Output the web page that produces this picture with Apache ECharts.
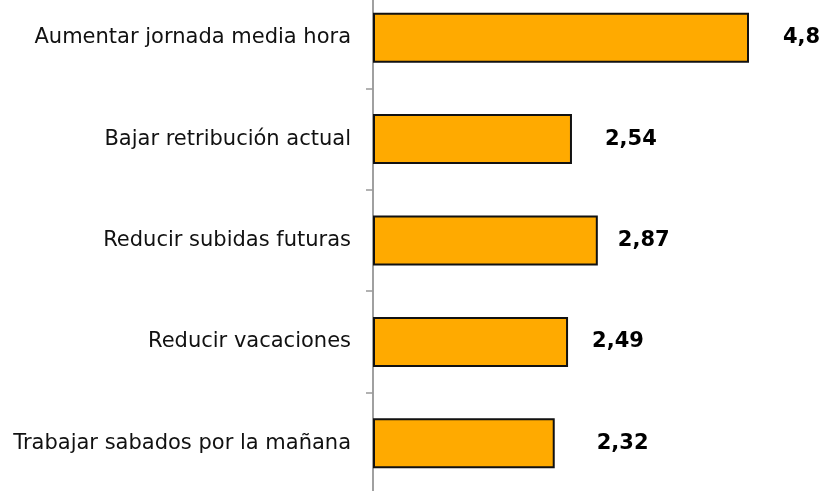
<!DOCTYPE html>
<html>
<head>
<meta charset="utf-8">
<script src="https://cdn.jsdelivr.net/npm/echarts@6/dist/echarts.min.js"></script>
<style>
  html, body { margin: 0; padding: 0; background: #fff; overflow: hidden; }
  #chart { width: 823px; height: 517px; margin-top: -13px; }
</style>
</head>
<body>
<div id="chart"></div>
<script>
// categorias (de arriba a abajo)
var categories = [
  'Aumentar jornada media hora',
  'Bajar retribución actual',
  'Reducir subidas futuras',
  'Reducir vacaciones',
  'Trabajar sabados por la mañana'
];
var values = [4.8, 2.54, 2.87, 2.49, 2.32];
// separacion de cada etiqueta respecto al final de la barra
var labelGap = [34, 33, 20, 24, 42];

var myChart = echarts.init(document.getElementById('chart'));

var _data = values.map(function (v, i) {
  return {
    value: v,
    label: { distance: labelGap[i] }
  };
});

var option = {
  animation: false,
  grid: {
    left: 373,
    top: 0,
    width: 376,
    height: 507
  },
  xAxis: {
    type: 'value',
    min: 0,
    max: 4.8,
    show: false
  },
  yAxis: {
    type: 'category',
    inverse: true,
    data: categories,
    axisLine: {
      show: true,
      lineStyle: { color: '#a0a0a0', width: 2 }
    },
    axisTick: {
      show: true,
      length: 7,
      lineStyle: { color: '#999', width: 1.5 }
    },
    axisLabel: {
      margin: 22,
      color: '#111',
      fontFamily: 'DejaVu Sans',
      fontSize: 21,
      padding: [4, 0, 0, 0]
    }
  },
  series: [{
    type: 'bar',
    data: _data,
    barWidth: 50,
    itemStyle: {
      color: '#ffaa00',
      borderColor: '#111',
      borderWidth: 2
    },
    label: {
      show: true,
      position: 'right',
      color: '#000',
      fontFamily: 'DejaVu Sans',
      fontWeight: 'bold',
      fontSize: 21,
      formatter: function (p) {
        return String(p.value).replace('.', ',');
      }
    }
  }]
};

myChart.setOption(option);
</script>
</body>
</html>
